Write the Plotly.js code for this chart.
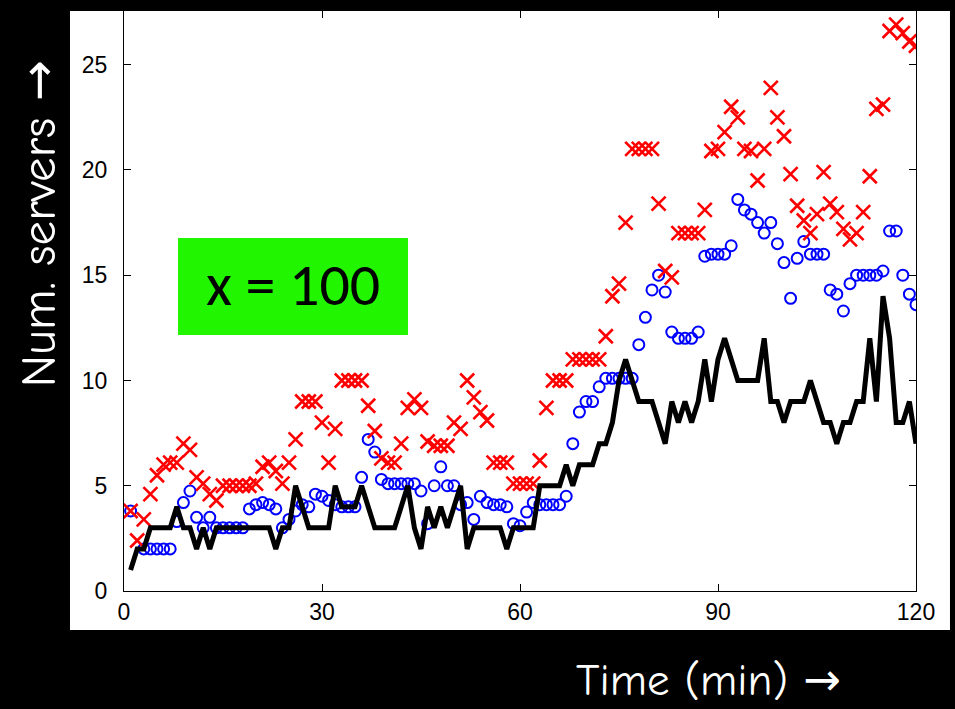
<!DOCTYPE html>
<html>
<head>
<meta charset="utf-8">
<script src="https://cdn.plot.ly/plotly-3.0.1.min.js"></script>
<style>
  html, body { margin: 0; padding: 0; background: #000; }
  #chart { width: 955px; height: 709px; }
</style>
</head>
<body>
<div id="chart"></div>
<script>
// Time axis, one sample per minute
const minutes = [
  1,2,3,4,5,6,7,8,9,10, 11,12,13,14,15,16,17,18,19,20,
  21,22,23,24,25,26,27,28,29,30, 31,32,33,34,35,36,37,38,39,40,
  41,42,43,44,45,46,47,48,49,50, 51,52,53,54,55,56,57,58,59,60,
  61,62,63,64,65,66,67,68,69,70, 71,72,73,74,75,76,77,78,79,80,
  81,82,83,84,85,86,87,88,89,90, 91,92,93,94,95,96,97,98,99,100,
  101,102,103,104,105,106,107,108,109,110, 111,112,113,114,115,116,117,118,119,120
];

// Servers provisioned (red crosses)
const serversUpper = [
  3.8,2.4,3.4,4.6,5.5,6.0,6.1,6.1,7.0,6.7,
  5.4,5.1,4.6,4.3,5.0,5.0,5.0,5.0,5.0,5.1,
  5.9,6.1,5.7,5.1,6.1,7.2,9.0,9.0,9.0,8.0,
  6.1,7.7,10.0,10.0,10.0,10.0,8.8,7.6,6.3,6.1,
  6.1,7.0,8.7,9.1,8.7,7.1,6.9,6.9,6.9,8.0,
  7.7,10.0,9.2,8.5,8.1,6.1,6.1,6.1,5.1,5.1,
  5.1,5.1,6.2,8.7,10.0,10.0,10.0,11.0,11.0,11.0,
  11.0,11.0,12.1,14.0,14.6,17.5,21.0,21.0,21.0,21.0,
  18.4,15.2,14.9,17.0,17.0,17.0,17.0,18.1,20.9,21.0,
  21.8,23.0,22.5,21.0,20.9,19.5,21.0,23.9,22.5,21.6,
  19.8,18.3,17.6,17.0,17.9,19.9,18.4,18.0,17.2,16.7,
  17.0,18.0,19.7,22.9,23.1,26.6,26.9,26.5,26.1,25.9
];

// Servers provisioned (blue circles)
const serversMiddle = [
  3.8,null,2.0,2.0,2.0,2.0,2.0,3.3,4.2,4.75,
  3.5,3.0,3.5,3.0,3.0,3.0,3.0,3.0,3.9,4.1,
  4.2,4.1,3.9,3.0,3.4,3.8,4.1,4.0,4.6,4.5,
  4.3,4.1,4.0,4.0,4.0,5.4,7.2,6.6,5.3,5.1,
  5.1,5.1,5.1,5.1,4.75,3.2,5.0,5.9,5.0,5.0,
  4.1,4.2,3.4,4.5,4.2,4.1,4.1,4.0,3.2,3.1,
  3.75,4.2,4.1,4.1,4.1,4.1,4.5,7.0,8.5,9.0,
  9.0,9.7,10.1,10.1,10.1,10.1,10.1,11.7,13.0,14.3,
  15.0,14.2,12.3,12.0,12.0,12.0,12.3,15.9,16.0,16.0,
  16.0,16.4,18.6,18.1,17.9,17.5,17.0,17.5,16.5,15.6,
  13.9,15.8,16.6,16.0,16.0,16.0,14.3,14.1,13.3,14.6,
  15.0,15.0,15.0,15.0,15.2,17.1,17.1,15.0,14.1,13.6
];

// Servers actually needed (black line)
const serversNeeded = [
  1,2,2,3,3,3,3,4,3,3,
  2,3,2,3,3,3,3,3,3,3,
  3,3,2,3,3,5,4,3,3,3,
  3,5,4,4,4,5,4,3,3,3,
  3,4,5,3,2,4,3,4,3,4,
  5,2,3,3,3,3,3,2,3,3,
  3,3,5,5,5,5,6,5,6,6,
  6,7,7,8,10,11,10,9,9,9,
  8,7,9,8,9,8,9,11,9,11,
  12,11,10,10,10,10,12,9,9,8,
  9,9,9,10,9,8,8,7,8,8,
  9,9,12,9,14,12,8,8,9,7
];

const xTicks = [0, 30, 60, 90, 120];
const yTicks = [0, 5, 10, 15, 20, 25];

const tickFont = { family: 'Liberation Sans, Arial, sans-serif', size: 23, color: '#000' };
const labelFamily = '"Comic Sans MS", "Comic Neue", "Noto Sans", sans-serif';
const arrow = '<span style="font-family:\'DejaVu Sans\'">\u2192</span>';

const traces = [
  {
    x: minutes, y: serversMiddle, type: 'scatter', mode: 'markers',
    marker: { symbol: 'circle-open', size: 11, color: '#0000ff', line: { width: 2, color: '#0000ff' } }
  },
  {
    x: minutes, y: serversUpper, type: 'scatter', mode: 'markers',
    marker: { symbol: 'x-thin-open', size: 14, color: '#ff0000', line: { width: 2.6, color: '#ff0000' } }
  },
  {
    x: minutes, y: serversNeeded, type: 'scatter', mode: 'lines',
    line: { color: '#000', width: 5 }
  }
];

const layout = {
  width: 955, height: 709,
  paper_bgcolor: '#000', plot_bgcolor: '#fff',
  margin: { l: 124, r: 39, t: 11, b: 118 },
  showlegend: false,
  hovermode: false,
  xaxis: {
    range: [0, 120], tickvals: xTicks, ticktext: xTicks.map(String),
    ticks: 'inside', ticklen: 7, tickcolor: '#000', tickwidth: 1,
    showline: true, linecolor: '#000', linewidth: 1, mirror: 'ticks',
    showgrid: false, zeroline: false, tickfont: tickFont
  },
  yaxis: {
    range: [0, 27.55], tickvals: yTicks, ticktext: yTicks.map(String),
    ticks: 'inside', ticklen: 7, tickcolor: '#000', tickwidth: 1,
    showline: true, linecolor: '#000', linewidth: 1, mirror: 'ticks',
    showgrid: false, zeroline: false, tickfont: tickFont, ticklabelstandoff: 11
  },
  shapes: [
    // white figure panel behind the axes
    { type: 'rect', xref: 'paper', yref: 'paper', layer: 'below',
      x0: -0.0682, x1: 1.0429, y0: -0.0672, y1: 1,
      fillcolor: '#fff', line: { width: 0 } },
    // green label box
    { type: 'rect', xref: 'paper', yref: 'paper', layer: 'above',
      x0: 0.0682, x1: 0.3586, y0: 0.4414, y1: 0.6086,
      fillcolor: '#22f500', line: { width: 0 } }
  ],
  annotations: [
    { text: 'x = 100', xref: 'paper', yref: 'paper', x: 0.2134, y: 0.528,
      xanchor: 'center', yanchor: 'middle', showarrow: false,
      font: { family: 'Carlito, "Open Sans", "Liberation Sans", sans-serif', size: 60, color: '#000' } },
    { text: 'Num. servers ' + arrow, xref: 'paper', yref: 'paper', x: -0.108, y: 0.633,
      xanchor: 'center', yanchor: 'middle', textangle: -90, showarrow: false,
      font: { family: labelFamily, size: 49, color: '#fff' } },
    { text: 'Time (min) ' + arrow, xref: 'paper', yref: 'paper', x: 0.738, y: -0.152,
      xanchor: 'center', yanchor: 'middle', showarrow: false,
      font: { family: labelFamily, size: 45, color: '#fff' } }
  ]
};

Plotly.newPlot('chart', traces, layout, { staticPlot: true, displayModeBar: false });
</script>
</body>
</html>
